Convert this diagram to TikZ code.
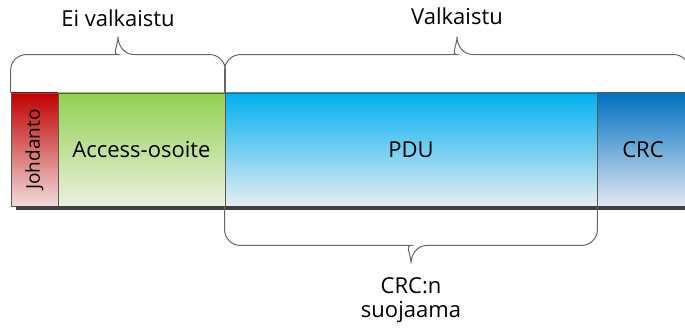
\documentclass[tikz,border=0pt]{standalone}
\usepackage{fontspec}
\setmainfont{Open Sans}
\usetikzlibrary{calc}
\definecolor{johdred}{HTML}{C00000}
\definecolor{johdpale}{HTML}{F2DCDB}
\definecolor{addrgreen}{HTML}{92D050}
\definecolor{addrpale}{HTML}{ECF1E0}
\definecolor{pducyan}{HTML}{00B0F0}
\definecolor{pdupale}{HTML}{E6EEF2}
\definecolor{crcblue}{HTML}{0070C0}
\definecolor{crcpale}{HTML}{E2E8F2}
\begin{document}
\begin{tikzpicture}[x=1pt, y=1pt,
  field/.style={draw=black!65, line width=0.9pt, minimum height=113pt, inner sep=0pt,
    font=\fontsize{22}{26}\selectfont},
  brace/.style={draw=black!60, line width=1pt},
  lbl/.style={font=\fontsize{22}{23.5}\selectfont, align=center}]
\useasboundingbox (0,0) rectangle (685,327);
% fields of the packet
\draw(34.5,177.5) node[field, minimum width=47pt, top color=johdred, bottom color=johdpale] (johdanto) {\fontsize{19}{21}\selectfont\rotatebox{90}{Johdanto}};
\draw(141.5,177.5) node[field, minimum width=167pt, top color=addrgreen, bottom color=addrpale] (osoite) {Access-osoite};
\draw(411,177.5) node[field, minimum width=372pt, top color=pducyan, bottom color=pdupale] (pdu) {PDU};
\draw(643,177.5) node[field, minimum width=92pt, top color=crcblue, bottom color=crcpale] (crc) {CRC};
\draw[line width=3.5pt, black!75] ([xshift=5pt, yshift=-1.5pt]johdanto.south west) -- ([yshift=-1.5pt]crc.south east);
% brace tips
\coordinate (eitip) at ($(johdanto.north west)!.5!(osoite.north east)+(0,56)$);
\coordinate (valtip) at ($(pdu.north west)!.5!(crc.north east)+(0,56)$);
\coordinate (crctip) at ($(pdu.south west)!.5!(pdu.south east)+(0,-57)$);
\draw[brace] (johdanto.north west) [rounded corners=16pt] |- ($(eitip)+(-16,-18)$) [sharp corners]
  .. controls +(10,0) and +(0,-9) .. (eitip) .. controls +(0,-9) and +(-10,0) .. ($(eitip)+(16,-18)$)
  [rounded corners=16pt] -| (osoite.north east);
\draw[brace] (pdu.north west) [rounded corners=16pt] |- ($(valtip)+(-16,-18)$) [sharp corners]
  .. controls +(10,0) and +(0,-9) .. (valtip) .. controls +(0,-9) and +(-10,0) .. ($(valtip)+(16,-18)$)
  [rounded corners=16pt] -| (crc.north east);
\draw[brace] (pdu.south west) [rounded corners=16pt] |- ($(crctip)+(-16,18)$) [sharp corners]
  .. controls +(10,0) and +(0,9) .. (crctip) .. controls +(0,9) and +(-10,0) .. ($(crctip)+(16,18)$)
  [rounded corners=16pt] -| (pdu.south east);
% labels
\draw(118,300) node[lbl, anchor=base] (ei) {Ei valkaistu};
\draw(457,302) node[lbl, anchor=base] (val) {Valkaistu};
\draw(411,27) node[lbl] (suoj) {CRC:n\\suojaama};
\end{tikzpicture}
\end{document}
